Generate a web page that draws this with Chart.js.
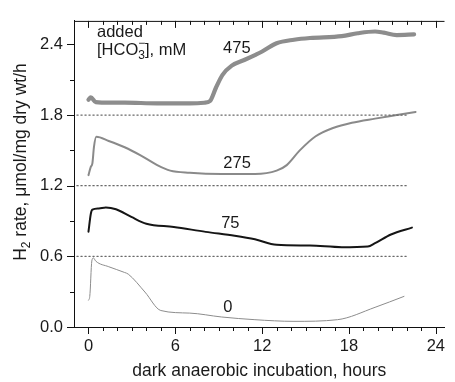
<!DOCTYPE html>
<html>
<head>
<meta charset="utf-8">
<script src="https://cdn.jsdelivr.net/npm/chart.js@4.4.1/dist/chart.umd.min.js"></script>
<style>
  body { margin: 0; background: #fff; }
  #wrap { width: 455px; height: 382px; }
</style>
</head>
<body>
<div id="wrap"><canvas id="chartH2"></canvas></div>
<script>
// datos (horas, umol/mg dry wt/h)
const hours475 = [0, 0.16, 0.5, 1.5, 2.5, 4.75, 7.0, 8.0, 8.4, 8.8, 9.25, 9.9, 10.8, 11.5, 12.0, 13.0, 14.2, 15.3, 17.5, 18.6, 19.8, 20.4, 21.3, 22.5];
const rate475 = [1.93, 1.95, 1.91, 1.905, 1.905, 1.90, 1.90, 1.905, 1.92, 2.03, 2.14, 2.22, 2.27, 2.31, 2.34, 2.41, 2.44, 2.455, 2.47, 2.495, 2.51, 2.50, 2.48, 2.485];

const hours275 = [0, 0.16, 0.27, 0.38, 0.54, 1.4, 2.5, 3.6, 4.75, 5.65, 7.0, 9.2, 11.5, 13.0, 13.7, 14.6, 15.7, 16.9, 18.2, 19.8, 21.3, 22.6];
const rate275 = [1.29, 1.36, 1.39, 1.53, 1.615, 1.58, 1.527, 1.458, 1.375, 1.328, 1.31, 1.30, 1.30, 1.328, 1.375, 1.50, 1.62, 1.69, 1.735, 1.77, 1.80, 1.826];

const hours75 = [0, 0.16, 0.27, 0.72, 1.2, 1.9, 2.96, 4.0, 5.9, 8.1, 10.1, 11.5, 13.0, 15.3, 17.5, 19.3, 19.8, 20.9, 22.35];
const rate75 = [0.81, 0.96, 0.997, 1.007, 1.015, 1.0, 0.935, 0.877, 0.85, 0.808, 0.775, 0.745, 0.698, 0.692, 0.678, 0.684, 0.712, 0.786, 0.844];

const hours0 = [0, 0.09, 0.23, 0.34, 0.5, 1.4, 2.5, 2.75, 3.9, 5.0, 7.0, 9.2, 11.5, 14.2, 17.2, 19.8, 21.8];
const rate0 = [0.228, 0.26, 0.56, 0.587, 0.56, 0.512, 0.463, 0.449, 0.297, 0.14, 0.118, 0.085, 0.062, 0.048, 0.062, 0.167, 0.26];

// lineas punteadas de referencia
const refLevels = [0.6, 1.2, 1.8];
const refStart = -0.8, refEnd = 22;

const xTicks = [0, 6, 12, 18, 24];
const yTicks = [0.0, 0.6, 1.2, 1.8, 2.4];
const seriesNames = ["475", "275", "75", "0"];

const FONT = '"Liberation Sans", Arial, sans-serif';
const FS = 16.5;

function pts(xs, ys) { return xs.map((x, i) => ({ x: x, y: ys[i] })); }

// etiquetas de cada curva (en coordenadas de datos)
const labelPos = { "475": [10.25, 2.366], "275": [10.27, 1.39], "75": [9.8, 0.88], "0": [9.63, 0.17] };

const refDatasets = refLevels.map(v => ({
    data: [{ x: refStart, y: v }, { x: refEnd, y: v }],
    borderColor: "#6a6a6a",
    borderWidth: 1.2,
    borderDash: [1.3, 2.7],
    pointRadius: 0,
    tension: 0
}));

const axisDecor = {
    id: "axisDecor",
    afterDraw(chart) {
        const ctx = chart.ctx;
        const xs = chart.scales.x, ys = chart.scales.y;
        const a = chart.chartArea;
        ctx.save();
        ctx.strokeStyle = "#111";
        ctx.lineWidth = 1;
        // linea superior
        ctx.beginPath();
        ctx.moveTo(a.left, a.top + 0.5);
        ctx.lineTo(a.right, a.top + 0.5);
        ctx.stroke();
        ctx.beginPath();
        for (let h = 0; h <= 24; h++) {
            const px = Math.round(xs.getPixelForValue(h)) + 0.5;
            const major = h % 6 === 0;
            const len = major ? 7 : 4;
            ctx.moveTo(px, a.bottom); ctx.lineTo(px, a.bottom + len);
            ctx.moveTo(px, a.top); ctx.lineTo(px, a.top + len);
        }
        for (let k = 0; k <= 8; k++) {
            const v = k * 0.3;
            const py = Math.round(ys.getPixelForValue(v)) + 0.5;
            const len = k % 2 === 0 ? 7 : 4;
            ctx.moveTo(a.left, py); ctx.lineTo(a.left - len, py);
        }
        ctx.stroke();

        ctx.fillStyle = "#1a1a1a";
        // titulo eje y con subindice
        ctx.save();
        ctx.translate(21, 162);
        ctx.rotate(-Math.PI / 2);
        const f1 = FS + "px " + FONT, f2 = "12px " + FONT, fT = "17.5px " + FONT;
        ctx.font = fT;
        const wH = ctx.measureText("H").width;
        const rest = " rate, \u03bcmol/mg dry wt/h";
        const wR = ctx.measureText(rest).width;
        ctx.font = f2;
        const w2 = ctx.measureText("2").width;
        let x0 = -(wH + w2 + wR) / 2;
        ctx.textBaseline = "alphabetic";
        ctx.font = fT;
        ctx.fillText("H", x0, 5);
        ctx.font = f2;
        ctx.fillText("2", x0 + wH, 9);
        ctx.font = fT;
        ctx.fillText(rest, x0 + wH + w2, 5);
        ctx.restore();

        // anotacion
        ctx.font = f1;
        ctx.textBaseline = "alphabetic";
        ctx.fillText("added", 97, 37);
        let cx = 97;
        ctx.fillText("[HCO", cx, 55);
        cx += ctx.measureText("[HCO").width;
        ctx.font = f2;
        ctx.fillText("3", cx, 59);
        ctx.fillText("\u2212", cx, 47);
        cx += ctx.measureText("3").width;
        ctx.font = f1;
        ctx.fillText("], mM", cx, 55);

        // etiquetas de las curvas
        ctx.textAlign = "center";
        ctx.textBaseline = "middle";
        seriesNames.forEach(n => {
            const p = labelPos[n];
            ctx.fillText(n, xs.getPixelForValue(p[0]), ys.getPixelForValue(p[1]));
        });
        ctx.restore();
    }
};

const ctxH2 = document.getElementById("chartH2").getContext("2d");
const chartH2 = new Chart(ctxH2, {
    type: "line",
    data: {
        datasets: refDatasets.concat([
            { label: seriesNames[0], data: pts(hours475, rate475), borderColor: "#8d8d8d", borderWidth: 4.2 },
            { label: seriesNames[1], data: pts(hours275, rate275), borderColor: "#8a8a8a", borderWidth: 2 },
            { label: seriesNames[2], data: pts(hours75, rate75), borderColor: "#151515", borderWidth: 2 },
            { label: seriesNames[3], data: pts(hours0, rate0), borderColor: "#8c8c8c", borderWidth: 1 }
        ])
    },
    options: {
        responsive: true,
        maintainAspectRatio: false,
        animation: false,
        layout: { padding: { top: 14, right: 0, left: 0, bottom: 0 } },
        elements: { point: { radius: 0 }, line: { tension: 0.25, cubicInterpolationMode: "monotone", borderCapStyle: "round", borderJoinStyle: "round" } },
        plugins: { legend: { display: false }, tooltip: { enabled: false } },
        scales: {
            x: {
                type: "linear",
                min: -1,
                max: 24.6,
                afterBuildTicks: s => { s.ticks = xTicks.map(v => ({ value: v })); },
                afterFit: s => { s.height = 55; },
                grid: { display: false, drawTicks: false, tickLength: 0 },
                border: { display: true, color: "#111", width: 1 },
                ticks: { color: "#1a1a1a", font: { family: FONT, size: FS }, padding: 10, maxRotation: 0 },
                title: { display: true, text: "dark anaerobic incubation, hours", color: "#1a1a1a", font: { family: FONT, size: 17.5 }, padding: { top: 4, bottom: 0 } }
            },
            y: {
                min: 0,
                max: 2.6,
                afterBuildTicks: s => { s.ticks = yTicks.map(v => ({ value: v })); },
                afterFit: s => { s.width = 74; },
                grid: { display: false, drawTicks: false, tickLength: 0 },
                border: { display: true, color: "#111", width: 1 },
                ticks: { color: "#1a1a1a", font: { family: FONT, size: FS }, padding: 11, callback: v => v.toFixed(1) }
            }
        }
    },
    plugins: [axisDecor]
});
</script>
</body>
</html>
